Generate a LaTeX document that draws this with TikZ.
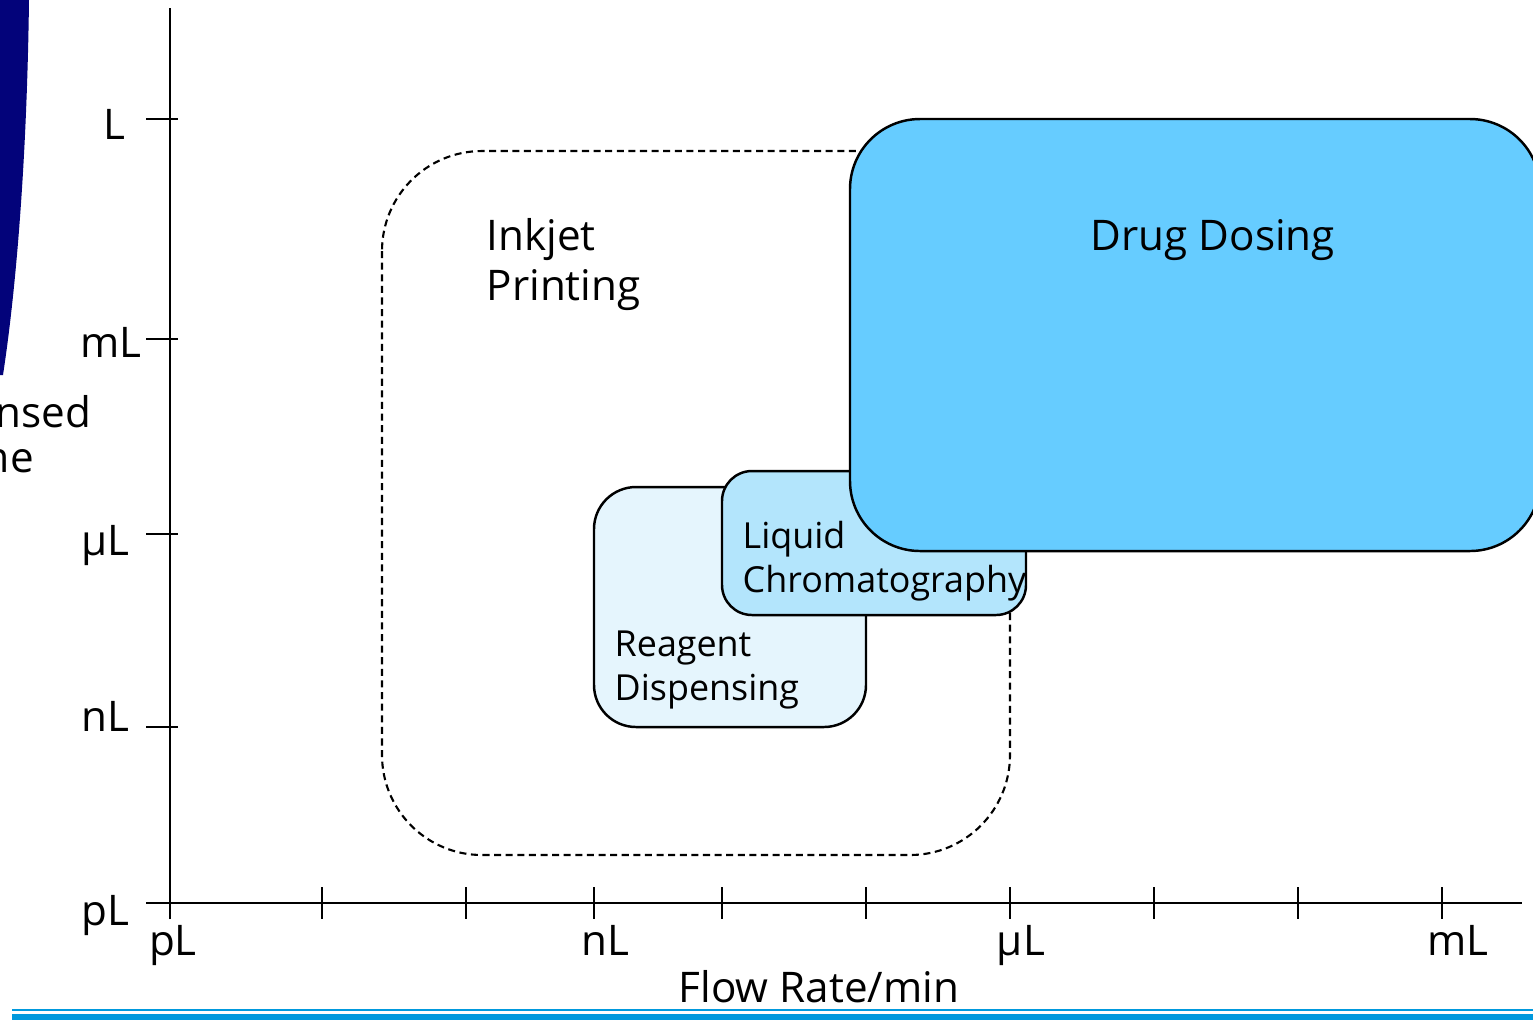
\documentclass[tikz,border=0pt]{standalone}
\usepackage{fontspec}
\setmainfont{Open Sans}
\begin{document}
\begin{tikzpicture}[x=0.01cm,y=-0.01cm,
  lbl/.style={font=\fontsize{12}{14.2}\selectfont, inner sep=0pt},
  small/.style={font=\fontsize{10.2}{12.4}\selectfont, inner sep=0pt},
  area/.style={draw=black, line width=0.7pt},
  axis/.style={line width=0.7pt},
]
\useasboundingbox (0,0) rectangle (1533,1020);
\definecolor{navyband}{HTML}{03037A}
\definecolor{ruleblue}{HTML}{0099DD}
\definecolor{reagentfill}{HTML}{E5F5FD}
\definecolor{lcfill}{HTML}{B3E5FC}
\definecolor{drugfill}{HTML}{66CCFF}

% dark band at the upper left
\fill[navyband] (0,0) -- (29,0) .. controls (27,160) and (16,290) .. (3,375) -- (0,375) -- cycle;

% vertical axis title, running off the left edge
\node[lbl, anchor=base east] (ytitle1) at (92,427) {Dispensed};
\node[lbl, anchor=base west] (ytitle2) at (ytitle1.base west) [yshift=-0.45cm] {Volume};

% axes
\coordinate (ytop) at (170,8);
\coordinate (yfoot) at (170,919);
\coordinate (xstart) at (146,903);
\coordinate (xend) at (1522,903);
\draw[axis] (yfoot) -- (ytop);
\draw[axis] (xstart) -- (xend);

% y ticks and labels
\foreach \yy in {119,339,534,727,903}{
  \draw[axis] (146,\yy) -- (178,\yy);
}
\node[lbl, anchor=base east] (yl)  at (126,139) {L};
\node[lbl, anchor=base east] (yml) at (142,357) {mL};
\node[lbl, anchor=base east] (yul) at (130,555) {µL};
\node[lbl, anchor=base east] (ynl) at (130,731) {nL};
\node[lbl, anchor=base east] (ypl) at (130,925) {pL};

% x ticks and labels
\foreach \xx in {322,466,594,722,866,1010,1154,1298,1442}{
  \draw[axis] (\xx,887) -- (\xx,919);
}
\node[lbl, anchor=base] (xpl) at (173,955) {pL};
\node[lbl, anchor=base] (xnl) at (605,955) {nL};
\node[lbl, anchor=base] (xul) at (1021,955) {µL};
\node[lbl, anchor=base] (xml) at (1458,955) {mL};
\node[lbl, anchor=base] (xtitle) at (819,1002) {Flow Rate/min};

% application regions
\draw[dash pattern=on 2pt off 1.3pt, line width=0.6pt, rounded corners=1cm] (382,151) rectangle (1010,855);
\draw[area, fill=reagentfill, rounded corners=0.42cm] (594,487) rectangle (866,727);
\draw[area, fill=lcfill, rounded corners=0.3cm] (722,471) rectangle (1026,615);
\draw[area, fill=drugfill, rounded corners=0.7cm] (850,119) rectangle (1540,551);

% region labels (anchored on the baseline of their last line)
\node[lbl, align=left, anchor=base west] (inkjet) at (486,300) {Inkjet\\Printing};
\node[small, align=left, anchor=base west] (reagent) at (614,700) {Reagent\\Dispensing};
\node[small, align=left, anchor=base west] (lc) at (742,592) {Liquid\\Chromatography};
\node[lbl, anchor=base] (drug) at (1213,250) {Drug Dosing};

% rules along the foot
\fill[ruleblue] (12,1008.5) rectangle (1533,1010.5);
\fill[ruleblue] (12,1014) rectangle (1533,1020);
\end{tikzpicture}
\end{document}
